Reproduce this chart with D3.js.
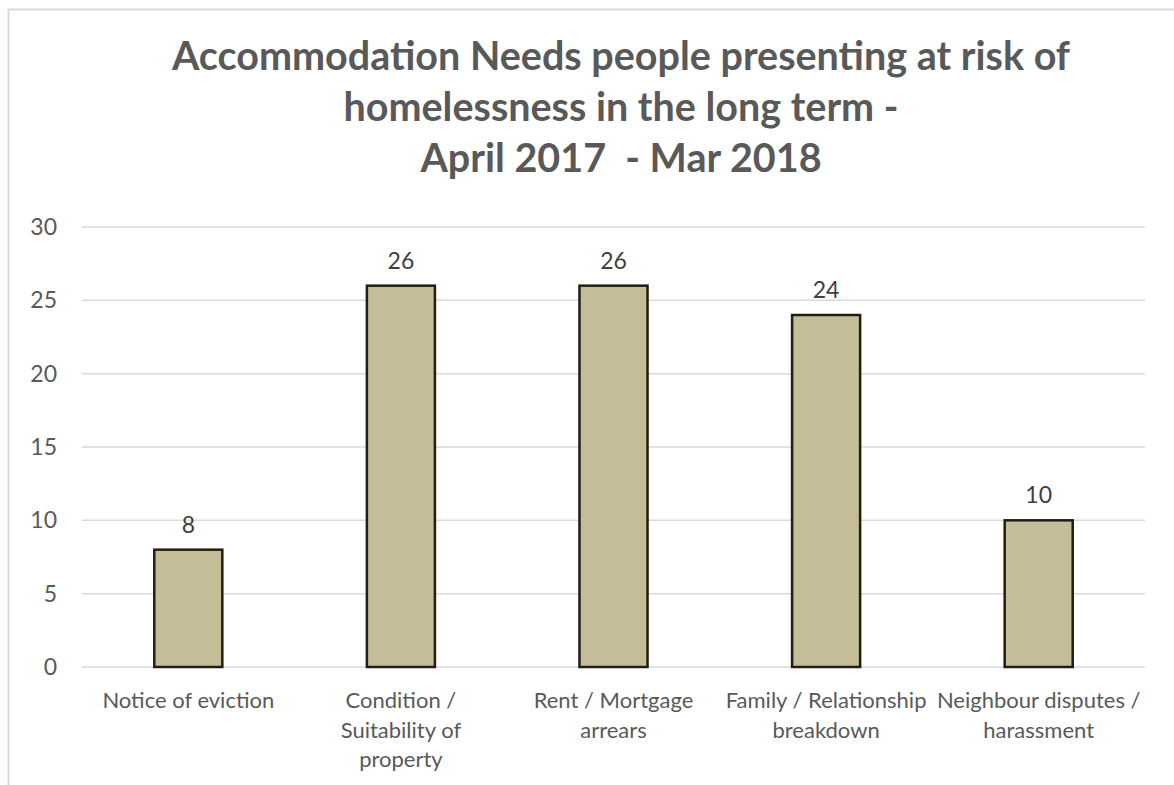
<!DOCTYPE html>
<html>
<head>
<meta charset="utf-8">
<script src="https://cdn.jsdelivr.net/npm/d3@7"></script>
<style>
  html, body { margin: 0; padding: 0; background: #fff; }
  svg { display: block; }
</style>
</head>
<body>
<svg id="chart" width="1174" height="785"></svg>
<script>
const categories = [
  "Notice of eviction",
  "Condition /\nSuitability of\nproperty",
  "Rent / Mortgage\narrears",
  "Family / Relationship\nbreakdown",
  "Neighbour disputes /\nharassment"
];
const values = [8, 26, 26, 24, 10];
const yTicks = [0, 5, 10, 15, 20, 25, 30];
const titleLines = [
  "Accommodation Needs people presenting at risk of",
  "homelessness in the long term -",
  "April 2017  - Mar 2018"
];

const W = 1174, H = 785;
const svg = d3.select("#chart");
const font = "Lato, 'Open Sans', 'Liberation Sans', sans-serif";

// chart border
svg.append("rect")
  .attr("x", 8.5).attr("y", 9.5)
  .attr("width", 1200).attr("height", 900)
  .attr("fill", "none").attr("stroke", "#d9d9d9").attr("stroke-width", 2);

const margin = { left: 82, right: W - 1145, top: 227, bottom: H - 667 };
const x = d3.scaleBand()
  .domain(categories)
  .range([margin.left, W - margin.right])
  .paddingInner(0.68).paddingOuter(0.34);
const y = d3.scaleLinear().domain([0, 30]).range([667, 227]);

// title
const title = svg.append("text")
  .attr("text-anchor", "middle")
  .attr("font-family", font)
  .attr("font-weight", "bold")
  .attr("font-size", 39.5)
  .attr("fill", "#595959");
const titleY = [70, 121, 172];
titleLines.forEach((t, i) => {
  title.append("tspan").attr("x", 621).attr("y", titleY[i])
    .attr("xml:space", "preserve").style("white-space", "pre").text(t);
});

// gridlines
svg.append("g").selectAll("line")
  .data(yTicks).join("line")
  .attr("x1", margin.left).attr("x2", W - margin.right)
  .attr("y1", d => y(d)).attr("y2", d => y(d))
  .attr("stroke", "#d9d9d9").attr("stroke-width", 1.5);

// y axis labels
const yAxis = svg.append("g")
  .attr("transform", `translate(${margin.left},0)`)
  .call(d3.axisLeft(y).tickValues(yTicks).tickSize(0).tickPadding(25));
yAxis.select(".domain").remove();
yAxis.selectAll("text")
  .attr("font-family", font).attr("font-size", 23).attr("fill", "#595959");

// bars
svg.append("g").selectAll("rect")
  .data(values).join("rect")
  .attr("x", (d, i) => x(categories[i]))
  .attr("y", d => y(d))
  .attr("width", x.bandwidth())
  .attr("height", d => y(0) - y(d))
  .attr("fill", "#c4bd97")
  .attr("stroke", "#1f1d14")
  .attr("stroke-width", 2.5);

// value labels
svg.append("g").selectAll("text")
  .data(values).join("text")
  .attr("x", (d, i) => x(categories[i]) + x.bandwidth() / 2)
  .attr("y", d => y(d) - 17)
  .attr("text-anchor", "middle")
  .attr("font-family", font).attr("font-size", 23)
  .attr("fill", "#404040")
  .text(d => d);

// x category labels
const xl = svg.append("g").selectAll("text")
  .data(categories).join("text")
  .attr("text-anchor", "middle")
  .attr("font-family", font).attr("font-size", 22)
  .attr("fill", "#595959");
xl.each(function(c) {
  const cx = x(c) + x.bandwidth() / 2;
  c.split("\n").forEach((line, j) => {
    d3.select(this).append("tspan")
      .attr("x", cx).attr("y", 708 + j * 29.5).text(line);
  });
});
</script>
</body>
</html>
